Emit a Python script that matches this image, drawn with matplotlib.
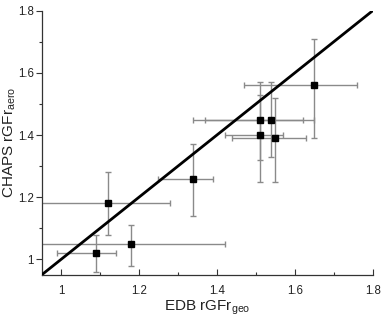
import matplotlib
matplotlib.use("Agg")
import matplotlib.pyplot as plt
from matplotlib.ticker import MultipleLocator

plt.rcParams['font.family'] = ['Liberation Sans', 'DejaVu Sans']

x = [1.09, 1.18, 1.12, 1.34, 1.51, 1.54, 1.51, 1.55, 1.65]
y = [1.02, 1.05, 1.18, 1.26, 1.45, 1.45, 1.40, 1.39, 1.56]
x_lo = [0.99, 0.90, 0.90, 1.25, 1.34, 1.37, 1.42, 1.44, 1.47]
x_hi = [1.14, 1.42, 1.28, 1.39, 1.62, 1.65, 1.57, 1.63, 1.76]
y_lo = [0.96, 0.98, 1.08, 1.14, 1.32, 1.33, 1.25, 1.25, 1.39]
y_hi = [1.08, 1.11, 1.28, 1.37, 1.57, 1.57, 1.53, 1.52, 1.71]
line_ends = [0.95, 1.8]
x_ticks = [1.0, 1.2, 1.4, 1.6, 1.8]
x_tick_labels = ['1', '1.2', '1.4', '1.6', '1.8']
y_ticks = [1.0, 1.2, 1.4, 1.6, 1.8]
y_tick_labels = ['1', '1.2', '1.4', '1.6', '1.8']

fig = plt.figure(figsize=(3.85, 3.22), dpi=100)
L, R, T, B = 41.5, 372.7, 10.7, 275.0
ax = fig.add_axes([L/385, 1 - B/322, (R-L)/385, (B-T)/322])

xerr = [[xi - lo for xi, lo in zip(x, x_lo)], [hi - xi for xi, hi in zip(x, x_hi)]]
yerr = [[yi - lo for yi, lo in zip(y, y_lo)], [hi - yi for yi, hi in zip(y, y_hi)]]
ax.errorbar(x, y, xerr=xerr, yerr=yerr, fmt='none', ecolor='#8a8a8a',
            elinewidth=1.0, capsize=2.5, capthick=1.0, zorder=2)
ax.plot(line_ends, line_ends, color='black', lw=2, zorder=3)
ax.plot(x, y, 's', color='black', ms=4.8, zorder=4)

ax.set_xlim(0.95, 1.8)
ax.set_ylim(0.95, 1.8)
ax.set_xticks(x_ticks)
ax.set_xticklabels(x_tick_labels)
ax.set_yticks(y_ticks)
ax.set_yticklabels(y_tick_labels)
ax.xaxis.set_minor_locator(MultipleLocator(0.1))
ax.yaxis.set_minor_locator(MultipleLocator(0.1))
ax.tick_params(axis='x', which='both', direction='in', labelsize=8.3, pad=7.5, colors='#333333', labelcolor='#222222')
ax.tick_params(axis='y', which='both', direction='out', labelsize=8.3, pad=1.5, colors='#333333', labelcolor='#222222')
ax.tick_params(which='major', length=4, width=0.8)
ax.tick_params(which='minor', length=2, width=0.8)
for s in ['top', 'right']:
    ax.spines[s].set_visible(False)
for s in ['left', 'bottom']:
    ax.spines[s].set_color('#333333')
    ax.spines[s].set_linewidth(0.9)

ax.set_xlabel('EDB rGFr$_{\\mathregular{geo}}$', fontsize=11, color='#222222')
ax.set_ylabel('CHAPS rGFr$_{\\mathregular{aero}}$', fontsize=11, color='#222222')
ax.xaxis.set_label_coords(0.5, -0.09)
ax.yaxis.set_label_coords(-0.072, 0.5)

fig.savefig('out.png', dpi=100)
